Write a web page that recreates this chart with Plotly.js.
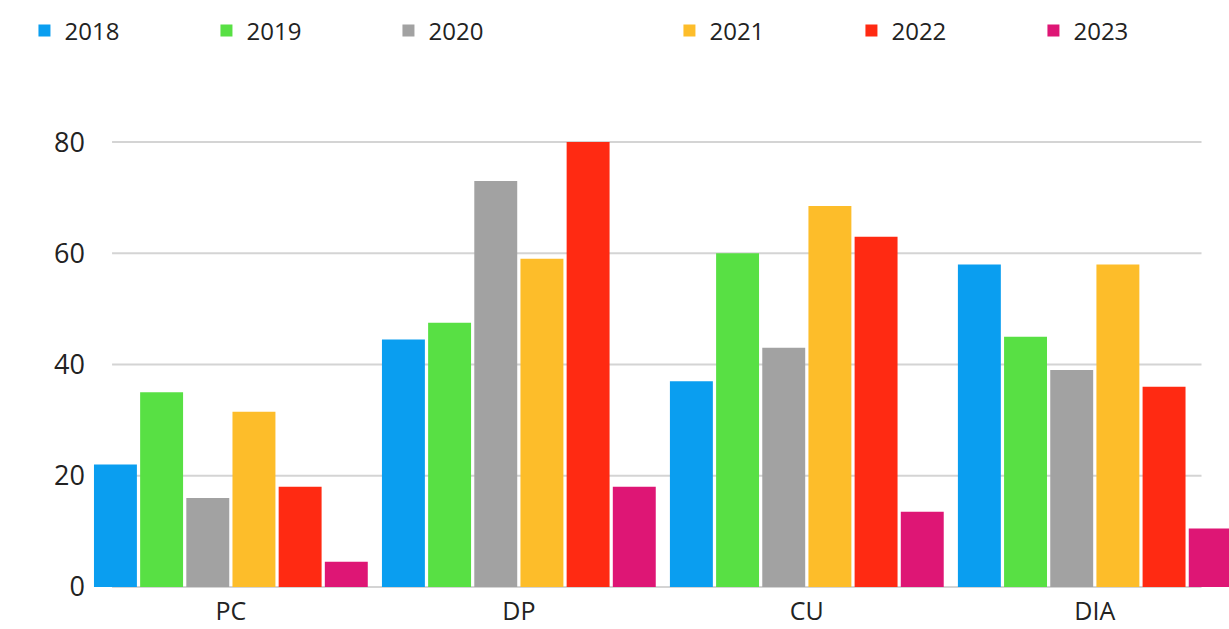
<!DOCTYPE html>
<html>
<head>
<meta charset="utf-8">
<script src="https://cdn.plot.ly/plotly-3.0.1.min.js"></script>
<style>
  html, body { margin: 0; padding: 0; background: #ffffff; }
  #chart { width: 1229px; height: 629px; }
</style>
</head>
<body>
<div id="chart"></div>
<script>
// ---- data ----
const categories = ["PC", "DP", "CU", "DIA"];
const years = ["2018", "2019", "2020", "2021", "2022", "2023"];
const values2018 = [22, 44.5, 37, 58];
const values2019 = [35, 47.5, 60, 45];
const values2020 = [16, 73, 43, 39];
const values2021 = [31.5, 59, 68.5, 58];
const values2022 = [18, 80, 63, 36];
const values2023 = [4.5, 18, 13.5, 10.5];
const yTickValues = [0, 20, 40, 60, 80];

// ---- styles ----
const seriesValues = [values2018, values2019, values2020, values2021, values2022, values2023];
const colors = ["#0A9EF0", "#58E044", "#A2A2A2", "#FDBD2A", "#FF2A12", "#DE1675"];
const legendIds = ["legend", "legend", "legend", "legend2", "legend2", "legend2"];

const traces = years.map((yr, i) => ({
  type: "bar",
  name: yr,
  x: categories,
  y: seriesValues[i],
  marker: { color: colors[i] },
  legend: legendIds[i],
  hoverinfo: "x+y+name"
}));

const gridShapes = yTickValues.map(v => ({
  type: "line",
  xref: "paper", yref: "y",
  x0: 0.0245, x1: 0.976,
  y0: v, y1: v,
  line: { color: "#d4d4d4", width: 2 },
  layer: "below"
}));

const legendFont = { family: "Open Sans, sans-serif", size: 24, color: "#222222" };

const layout = {
  width: 1229,
  height: 629,
  margin: { l: 84, r: 0, t: 131, b: 31 },
  paper_bgcolor: "#ffffff",
  plot_bgcolor: "#ffffff",
  barmode: "group",
  bargap: 0.038,
  bargroupgap: 0.07,
  font: { family: "Open Sans, sans-serif", size: 27, color: "#222222" },
  xaxis: {
    type: "category",
    range: [-0.51, 3.466],
    showgrid: false,
    zeroline: false,
    showline: false,
    ticks: "",
    tickfont: { family: "Open Sans, sans-serif", size: 25, color: "#222222" },
    ticklabelstandoff: -4
  },
  yaxis: {
    range: [-2, 82],
    tickvals: yTickValues,
    showgrid: false,
    zeroline: false,
    showline: false,
    ticks: "",
    tickfont: { family: "Open Sans, sans-serif", size: 27, color: "#222222" },
    ticklabelstandoff: -2
  },
  shapes: gridShapes,
  showlegend: true,
  legend: {
    orientation: "h",
    xref: "paper", yref: "container",
    x: -0.052, y: 0.951,
    xanchor: "left", yanchor: "middle",
    entrywidthmode: "pixels",
    entrywidth: 137,
    font: legendFont,
    bgcolor: "rgba(0,0,0,0)",
    traceorder: "normal"
  },
  legend2: {
    orientation: "h",
    xref: "paper", yref: "container",
    x: 0.5113, y: 0.951,
    xanchor: "left", yanchor: "middle",
    entrywidthmode: "pixels",
    entrywidth: 137,
    font: legendFont,
    bgcolor: "rgba(0,0,0,0)",
    traceorder: "normal"
  }
};

Plotly.newPlot("chart", traces, layout, { displayModeBar: false, responsive: false });
</script>
</body>
</html>
